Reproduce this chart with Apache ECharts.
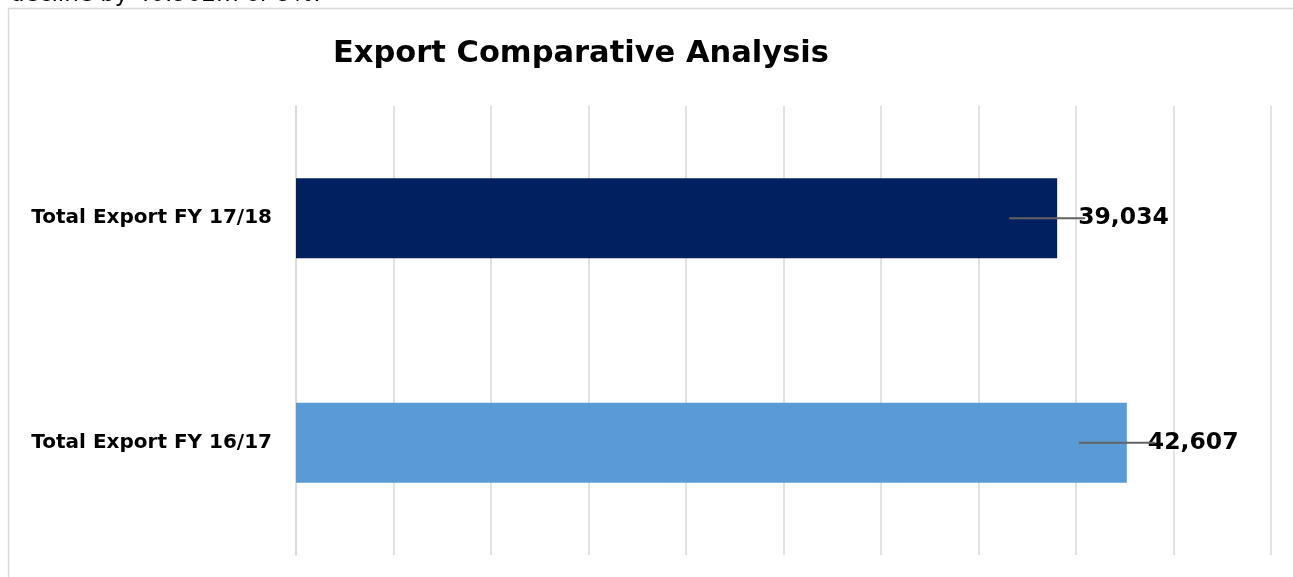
<!DOCTYPE html>
<html>
<head>
<meta charset="utf-8">
<script src="https://cdn.jsdelivr.net/npm/echarts@6/dist/echarts.min.js"></script>
<style>
  html, body { margin: 0; padding: 0; background: #ffffff; }
  #chart { width: 1293px; height: 577px; }
</style>
</head>
<body>
<div id="chart"></div>
<script>
// Export totals by fiscal year (listed bottom to top on the category axis)
const categories = ['Total Export FY 16/17', 'Total Export FY 17/18'];
const exportValues = [42607, 39034];
const barColors = ['#5B9BD5', '#002060'];
const titleText = 'Export Comparative Analysis';
const noteText = 'decline by 40.902m or 9%.';

const chart = echarts.init(document.getElementById('chart'));

const fmt = v => v.toLocaleString('en-US');

chart.setOption({
  animation: false,
  backgroundColor: '#ffffff',
  graphic: [
    {
      type: 'text',
      left: 10, top: -16,
      style: { text: noteText, font: '23px "DejaVu Sans"', fill: '#000' }
    },
    {
      type: 'rect',
      shape: { x: 8.5, y: 8.5, width: 1300, height: 600 },
      style: { fill: 'none', stroke: '#d9d9d9', lineWidth: 1.5 },
      z: -1
    }
  ],
  title: {
    text: titleText,
    left: 328, top: 34,
    textStyle: { fontFamily: 'DejaVu Sans', fontWeight: 'bold', fontSize: 30.5, color: '#000' }
  },
  grid: { left: 296, right: 22, top: 106, bottom: 22, containLabel: false },
  xAxis: {
    type: 'value',
    min: 0, max: 50000, interval: 5000,
    axisLabel: { show: false },
    axisTick: { show: false },
    axisLine: { show: false },
    splitLine: { show: true, lineStyle: { color: '#d9d9d9', width: 1.5 } }
  },
  yAxis: {
    type: 'category',
    data: categories,
    axisTick: { show: false },
    axisLine: { show: true, lineStyle: { color: '#d9d9d9', width: 1.5 } },
    axisLabel: {
      margin: 24,
      fontFamily: 'DejaVu Sans', fontWeight: 'bold', fontSize: 20, color: '#000'
    }
  },
  series: [
    {
      type: 'bar',
      barWidth: 80,
      data: exportValues.map((v, i) => ({ value: v, itemStyle: { color: barColors[i] } })),
      label: {
        show: true,
        position: 'right',
        distance: 21,
        formatter: p => fmt(p.value),
        fontFamily: 'DejaVu Sans', fontWeight: 'bold', fontSize: 23.5, color: '#000'
      },
      z: 2
    },
    {
      // leader lines running from inside each bar end toward its value label
      type: 'custom',
      data: exportValues.map((v, i) => [v, i]),
      renderItem: (params, api) => {
        const p = api.coord([api.value(0), api.value(1)]);
        return {
          type: 'line',
          shape: { x1: p[0] - 48, y1: p[1], x2: p[0] + 28, y2: p[1] },
          style: { stroke: '#636363', lineWidth: 2 }
        };
      },
      z: 3,
      silent: true
    }
  ]
});
</script>
</body>
</html>
